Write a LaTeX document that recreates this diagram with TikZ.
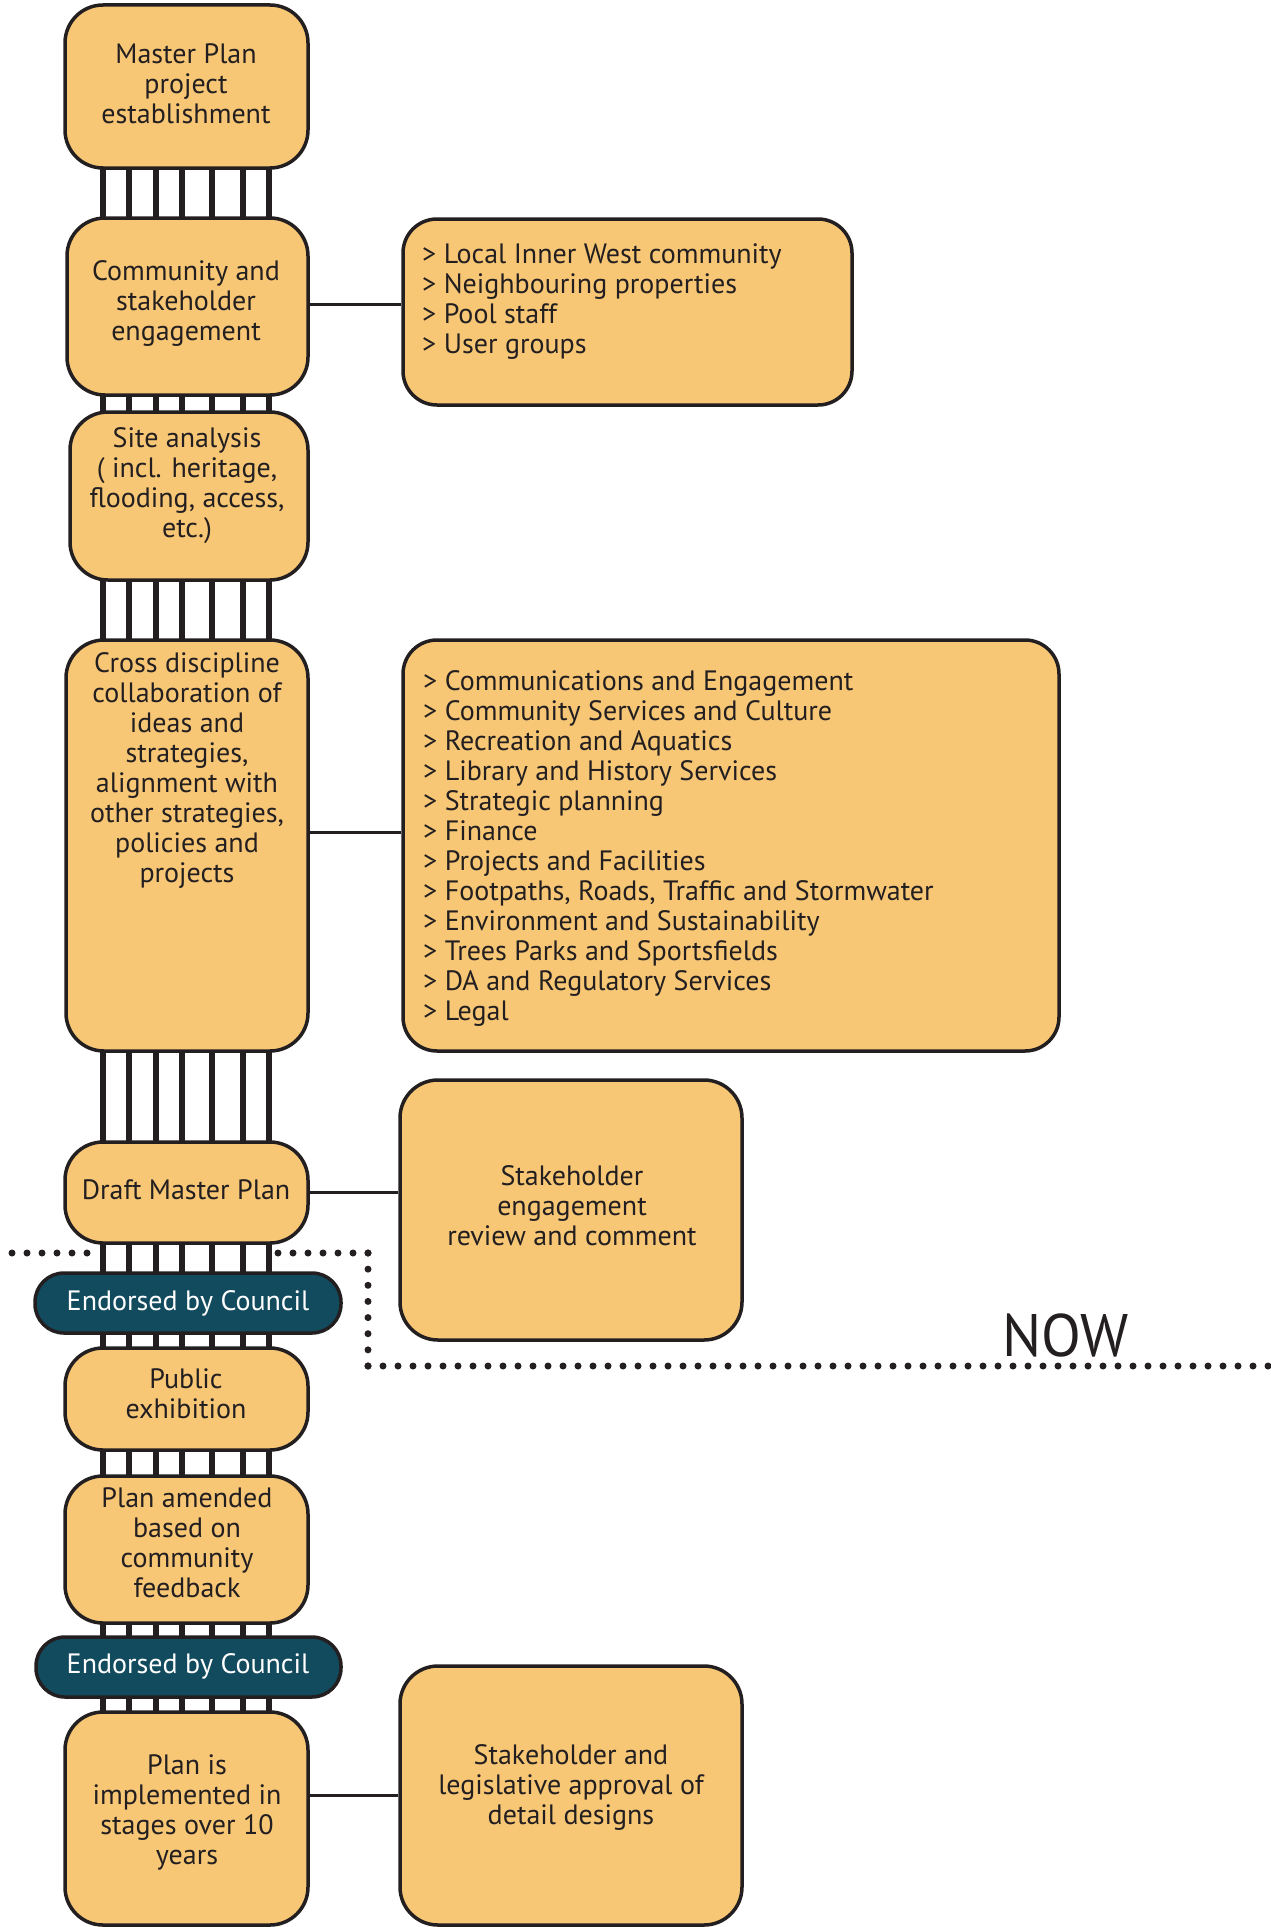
\documentclass[tikz,border=0pt]{standalone}
\usepackage{fontspec}
\setmainfont{PT Sans}
\usetikzlibrary{fit,backgrounds}
\definecolor{boxfill}{RGB}{247,199,118}
\definecolor{pillfill}{RGB}{18,74,94}
\definecolor{inkc}{RGB}{35,31,32}
\tikzset{
  box/.style={draw=inkc, line width=3.5pt, fill=boxfill, rounded corners=38pt, inner sep=0pt},
  rbox/.style={box, rounded corners=34pt},
  pill/.style={draw=inkc, line width=3.5pt, fill=pillfill, rounded corners=29pt, inner sep=0pt},
  txt/.style={align=center, font=\fontsize{28}{30}\selectfont, text=inkc, inner sep=0pt, anchor=base},
  ltxt/.style={txt, align=left, anchor=base west},
  wtxt/.style={txt, text=white},
  bar/.style={draw=inkc, line width=6pt},
  link/.style={draw=inkc, line width=3pt},
  dots/.style={draw=inkc, line width=7pt, line cap=round, dash pattern=on 0pt off 15pt},
}
\begin{document}
\begin{tikzpicture}[x=1pt,y=-1pt]
\useasboundingbox (0,0) rectangle (1270,1927);
% left column boxes
\node[box, fit={(65,5) (308,168)}] (master) {};
\node[box, fit={(67,218) (308,395)}] (community) {};
\node[box, fit={(70,412) (308,580)}] (site) {};
\node[box, fit={(66,640) (308,1051)}] (cross) {};
\node[box, fit={(65,1142) (308,1243)}] (draft) {};
\node[pill, fit={(35,1273) (341,1333)}] (endorseA) {};
\node[box, fit={(65,1348) (308,1450)}] (public) {};
\node[box, fit={(65,1476) (308,1623)}] (amended) {};
\node[pill, fit={(36,1637) (341,1697)}] (endorseB) {};
\node[box, fit={(65,1712) (308,1925)}] (impl) {};
% right boxes
\node[rbox, fit={(403,219) (852,405)}] (rA) {};
\node[rbox, fit={(403,640) (1059,1051)}] (rB) {};
\node[box, fit={(400,1080) (742,1340)}] (rC) {};
\node[box, fit={(400,1666) (742,1925)}] (rD) {};
% ladder
\begin{pgfonlayer}{background}
\foreach \bx in {103,129,156,182,212,243,269}
  \draw[bar] (master.center -| \bx,0) -- (impl.center -| \bx,0);
\end{pgfonlayer}
% connectors
\draw[link] (community.east |- 0,304) -- (rA.west |- 0,304);
\draw[link] (cross.east |- 0,832) -- (rB.west |- 0,832);
\draw[link] (draft.east) -- (draft.east -| rC.west);
\draw[link] (rD.west -| impl.east) -- (rD.west);
% texts (anchor = baseline of last line)
\node[txt] (tmaster) at (186,123) {Master Plan\\project\\establishment};
\node[txt] (tcommunity) at (186,340) {Community and\\stakeholder\\engagement};
\node[txt] (tsite) at (187,537) {Site analysis\\( incl. heritage,\\flooding, access,\\etc.)};
\node[txt] (tcross) at (187,882) {Cross discipline\\collaboration of\\ideas and\\strategies,\\alignment with\\other strategies,\\policies and\\projects};
\node[txt] (tdraft) at (186,1199) {Draft Master Plan};
\node[wtxt] (tendA) at (188,1310) {Endorsed by Council};
\node[txt] (tpublic) at (186,1418) {Public\\exhibition};
\node[txt] (tamended) at (187,1597) {Plan amended\\based on\\community\\feedback};
\node[wtxt] (tendB) at (188,1673) {Endorsed by Council};
\node[txt] (timpl) at (187,1864) {Plan is\\implemented in\\stages over 10\\years};
\node[ltxt] (trA) at (422,353) {> Local Inner West community\\> Neighbouring properties\\> Pool staff\\> User groups};
\node[ltxt] (trB) at (423,1020) {> Communications and Engagement\\> Community Services and Culture\\> Recreation and Aquatics\\> Library and History Services\\> Strategic planning\\> Finance\\> Projects and Facilities\\> Footpaths, Roads, Traffic and Stormwater\\> Environment and Sustainability\\> Trees Parks and Sportsfields\\> DA and Regulatory Services\\> Legal};
\node[txt] (trC) at (572,1245) {Stakeholder\\engagement\\review and comment};
\node[txt] (trD) at (571,1824) {Stakeholder and\\legislative approval of\\detail designs};
% NOW line
\draw[dots] (12,1253) -- (93,1253);
\draw[dots] (278,1253) -- (368,1253);
\draw[draw=inkc, line width=7pt, line cap=round, dash pattern=on 0pt off 16.14pt] (368,1253) -- (368,1366);
\draw[dots] (368,1366) -- (1275,1366);
\node[inner sep=0pt, anchor=base west, text=inkc, font=\fontsize{60}{60}\selectfont] (now) at (1002,1356) {\scalebox{0.97}[1]{NOW}};
\end{tikzpicture}
\end{document}
